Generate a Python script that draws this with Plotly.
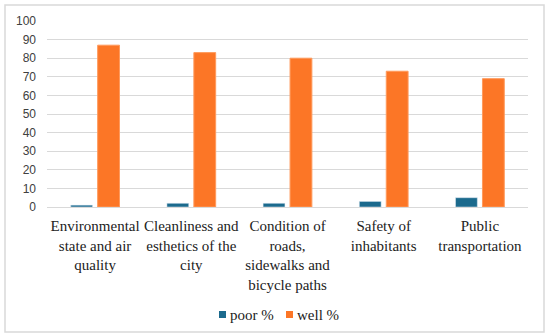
import plotly.graph_objects as go

categories = [
    "Environmental<br>state and air<br>quality",
    "Cleanliness and<br>esthetics of the<br>city",
    "Condition of<br>roads,<br>sidewalks and<br>bicycle paths",
    "Safety of<br>inhabitants",
    "Public<br>transportation",
]
series_names = ["poor %", "well %"]
poor = [1, 2, 2, 3, 5]
well = [87, 83, 80, 73, 69]
y_ticks = list(range(0, 101, 10))
colors = ["#1B6A8D", "#FC7626"]

SERIF = "Liberation Serif"
SANS = "Liberation Sans"

fig = go.Figure()
fig.add_trace(go.Bar(x=categories, y=poor, name=series_names[0], marker=dict(color=colors[0]),
                     showlegend=False))
fig.add_trace(go.Bar(x=categories, y=well, name=series_names[1],
                     marker=dict(color=colors[1], line=dict(color="#FF9A5C", width=1)),
                     showlegend=False))

L, R, T, B = 47, 22, 21, 128
W, H = 550, 335
pw, ph = W - L - R, H - T - B

def px(x):
    return (x - L) / pw

def py(y):
    return (H - B - y) / ph

# outer border
fig.add_shape(type="rect", xref="paper", yref="paper",
              x0=px(5), x1=px(544), y0=py(5), y1=py(332),
              line=dict(color="#D9D9D9", width=1.5), fillcolor="rgba(0,0,0,0)", layer="below")

# legend (squares + labels)
legend_x = [219, 286]
for name, col, lx in zip(series_names, colors, legend_x):
    fig.add_shape(type="rect", xref="paper", yref="paper",
                  x0=px(lx), x1=px(lx + 7), y0=py(311), y1=py(318),
                  line=dict(width=0), fillcolor=col)
    fig.add_annotation(xref="paper", yref="paper", x=px(lx + 9), y=py(314.5),
                       xanchor="left", yanchor="middle", showarrow=False, text=name,
                       font=dict(family=SERIF, size=15, color="#222222"))

fig.update_layout(
    width=W, height=H,
    margin=dict(l=L, r=R, t=T, b=B, pad=0, autoexpand=False),
    paper_bgcolor="white", plot_bgcolor="white",
    barmode="group", bargap=0.44, bargroupgap=0.19,
    showlegend=False,
    xaxis=dict(tickfont=dict(family=SERIF, size=15, color="#222222"),
               showgrid=False, zeroline=False, showline=False, ticks="", tickangle=0,
               ticklabelstandoff=8, automargin=False),
    yaxis=dict(range=[0, 100], tickvals=y_ticks, showgrid=True, gridcolor="#D9D9D9", gridwidth=1,
               zeroline=True, zerolinecolor="#D9D9D9", zerolinewidth=1, showline=False,
               tickfont=dict(family=SANS, size=12, color="#404040"),
               ticks="", ticklabelstandoff=10, automargin=False),
)

fig.write_html("out.html", config={"displayModeBar": False},
               post_script="document.body.style.margin='0';")
